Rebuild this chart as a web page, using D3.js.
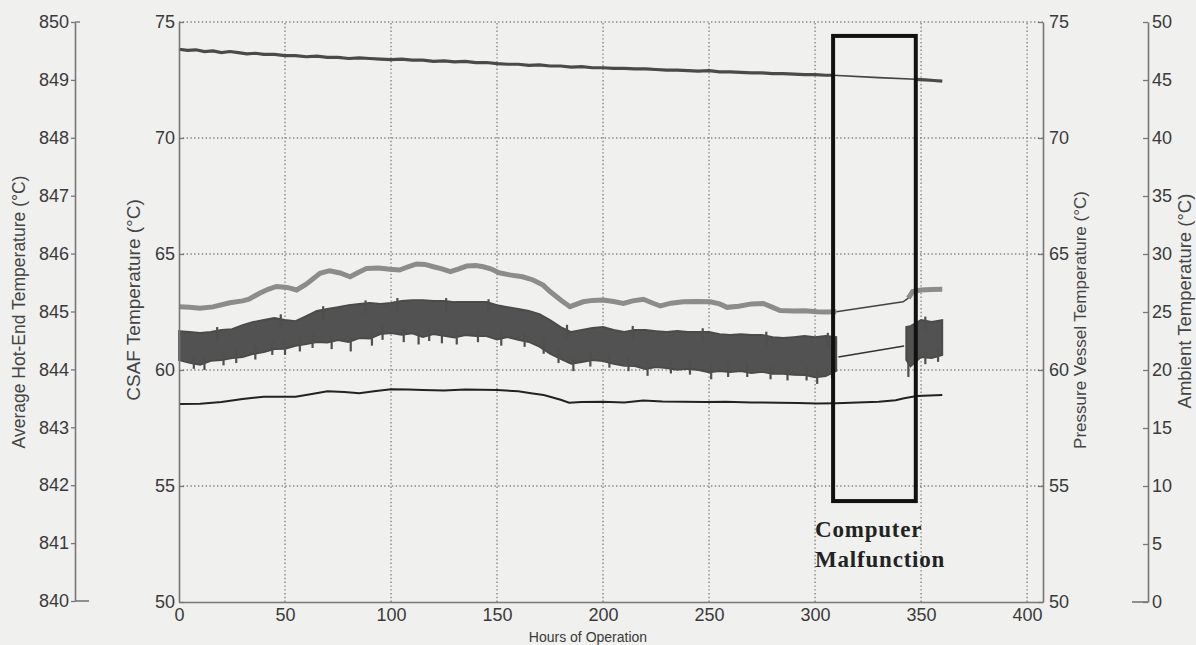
<!DOCTYPE html>
<html>
<head>
<meta charset="utf-8">
<script src="https://cdn.jsdelivr.net/npm/d3@7"></script>
<style>
  body { margin: 0; background: #f0f0ef; }
  text { font-family: "Liberation Sans", Arial, sans-serif; }
</style>
</head>
<body>
<div id="chart"></div>
<script>
// tick values
const xTicks = [0, 50, 100, 150, 200, 250, 300, 350, 400];
const csafTicks = [50, 55, 60, 65, 70, 75];
const hotEndTicks = [840, 841, 842, 843, 844, 845, 846, 847, 848, 849, 850];
const ambientTicks = [0, 5, 10, 15, 20, 25, 30, 35, 40, 45, 50];

// Average hot-end temperature [hour, °C]
const hotEnd = [[0,849.53],[4,849.51],[8,849.52],[12,849.49],[16,849.50],[20,849.47],[24,849.49],[28,849.47],[32,849.45],[36,849.46],[40,849.44],[45,849.44],[50,849.42],[55,849.42],[60,849.40],[65,849.41],[70,849.39],[75,849.39],[80,849.37],[85,849.38],[90,849.37],[95,849.36],[100,849.35],[105,849.36],[110,849.34],[115,849.34],[120,849.32],[125,849.33],[130,849.31],[135,849.32],[140,849.30],[145,849.30],[150,849.28],[155,849.27],[160,849.27],[165,849.25],[170,849.26],[175,849.24],[180,849.24],[185,849.22],[190,849.23],[195,849.21],[200,849.21],[205,849.20],[210,849.20],[215,849.19],[220,849.19],[225,849.18],[230,849.17],[235,849.17],[240,849.16],[245,849.15],[250,849.16],[255,849.14],[260,849.14],[265,849.13],[270,849.12],[275,849.12],[280,849.11],[285,849.11],[290,849.10],[295,849.09],[300,849.09],[305,849.08],[308.5,849.08]];
const hotEndGap = [[308.5,849.08],[330,849.04],[347.5,849.01]];
const hotEndAfter = [[347.5,849.01],[352,849.00],[356,848.99],[360,848.98]];

// CSAF temperature [hour, °C]
const csaf = [[0,62.73],[5,62.70],[10,62.66],[16,62.72],[24,62.90],[30,62.98],[33,63.05],[38,63.31],[42,63.48],[46,63.60],[51,63.56],[55.5,63.45],[60,63.70],[66.5,64.17],[71,64.28],[76,64.18],[80.7,64.02],[85,64.22],[88.5,64.38],[94,64.40],[99.5,64.34],[104,64.31],[108,64.45],[112,64.57],[116,64.55],[120,64.45],[124,64.36],[128,64.24],[132,64.36],[135.7,64.48],[140,64.50],[143.5,64.45],[147,64.36],[151,64.19],[156,64.10],[162,64.02],[167,63.88],[171.7,63.66],[175,63.38],[180,63.02],[184.4,62.73],[190.6,62.94],[195,63.00],[200,63.02],[205,62.95],[209.6,62.87],[214,62.98],[219,63.05],[223,62.90],[227,62.76],[232,62.88],[237.8,62.94],[244,62.95],[250.5,62.94],[255,62.85],[258.5,62.70],[264,62.75],[270,62.85],[275.6,62.87],[280,62.70],[283.5,62.56],[290,62.54],[295,62.55],[301,62.51],[305,62.50],[310,62.51]];
const csafGap = [[310,62.51],[341.5,62.94],[344,63.10]];
const csafAfter = [[344,63.10],[346,63.38],[350,63.45],[355,63.47],[360,63.48]];

// Pressure vessel temperature [hour, °C]
const vessel = [[0,58.53],[10,58.55],[20,58.62],[30,58.75],[40,58.85],[55,58.85],[62,58.95],[70,59.08],[78,59.05],[85,59.00],[92,59.08],[100,59.17],[108,59.16],[115,59.14],[125,59.12],[135,59.16],[150,59.14],[160,59.08],[166,59.00],[172,58.92],[175,58.85],[180,58.72],[184,58.59],[190,58.62],[200,58.63],[210,58.60],[219,58.68],[228,58.64],[238,58.63],[248,58.62],[258,58.63],[270,58.60],[283,58.59],[292,58.58],[301,58.56],[310,58.57],[320,58.60],[330,58.63],[338,58.70],[342,58.78],[348,58.88],[354,58.90],[360,58.92]];

// Ambient temperature band [hour, high, low]
const ambient = [[0,23.36,20.86],[5,23.28,20.62],[10,23.19,20.44],[15,23.28,20.78],[20,23.45,20.86],[25,23.53,21.03],[30,23.88,21.12],[35,24.14,21.38],[40,24.31,21.55],[45,24.48,21.80],[50,24.31,21.82],[55,24.22,22.07],[60,24.66,22.24],[65,25.09,22.40],[70,25.26,22.37],[75,25.43,22.57],[80,25.60,22.41],[85,25.69,22.74],[90,25.78,22.70],[95,25.69,23.09],[100,25.78,23.18],[105,25.95,23.03],[110,26.03,23.16],[115,26.03,22.83],[120,25.95,23.09],[125,25.95,22.94],[130,25.86,22.80],[135,25.86,23.00],[140,25.86,22.93],[145,25.86,22.92],[150,25.60,22.63],[155,25.43,22.83],[160,25.26,22.59],[165,25.09,22.41],[170,24.83,22.01],[175,24.31,21.41],[180,23.71,20.95],[185,23.28,20.54],[190,23.45,20.69],[195,23.62,20.86],[200,23.71,20.76],[205,23.45,20.52],[210,23.28,20.36],[215,23.45,20.34],[220,23.45,20.07],[225,23.36,20.24],[230,23.28,20.17],[235,23.36,20.01],[240,23.28,20.09],[245,23.28,20.00],[250,23.28,19.80],[255,23.10,19.91],[260,23.02,19.83],[265,23.10,19.91],[270,23.02,19.74],[275,23.02,19.83],[280,22.84,19.66],[285,22.76,19.67],[290,22.84,19.58],[295,22.93,19.57],[300,22.84,19.37],[305,22.93,19.48],[310,22.84,19.91]];
const ambientGap = [[311,21.12],[342,22.07]];
const ambientAfter = [[343,23.71,20.86],[345,23.79,20.31],[350,24.31,21.12],[355,24.14,21.03],[360,24.31,21.29]];
// downward and upward spikes [hour, extreme °C]
const ambientLowSpikes = [[7,20.1],[12,20.0],[21,20.4],[27,20.6],[36,20.9],[44,21.3],[50,21.3],[57,21.6],[63,21.9],[72,21.8],[81,21.6],[91,22.1],[96,22.6],[106,22.4],[113,22.2],[118,22.5],[124,22.3],[131,22.2],[141,22.4],[152,22.1],[163,22.0],[172,21.4],[179,20.6],[186,19.9],[194,20.3],[203,20.2],[212,19.9],[221,19.5],[232,19.7],[241,19.6],[251,19.2],[259,19.4],[268,19.4],[279,19.2],[287,19.1],[296,19.1],[301,18.8],[308,19.3],[344,19.4],[352,20.5],[358,20.7]];
const ambientHighSpikes = [[18,23.7],[48,24.8],[68,25.5],[88,26.0],[103,26.2],[126,26.2],[146,26.1],[183,23.9],[214,23.8],[247,23.6],[277,23.3],[306,23.2],[352,24.6]];

// malfunction box: hours, CSAF °C
const boxHours = [308.5, 347.5];
const boxTemps = [54.35, 74.4];

const width = 1196, height = 645;
const x = d3.scaleLinear().domain([0, 407.5]).range([179, 1043]);
const yMain = d3.scaleLinear().domain([50, 75]).range([602, 22]);
const yHot = d3.scaleLinear().domain([840, 850]).range([601, 22]);
const yAmb = d3.scaleLinear().domain([0, 50]).range([602, 22]);

const svg = d3.select("#chart").append("svg")
  .attr("width", width).attr("height", height);

svg.append("rect").attr("width", width).attr("height", height).attr("fill", "#f0f0ef");

// dotted grid
const grid = svg.append("g").attr("stroke", "#858585").attr("stroke-width", 1.4).attr("stroke-dasharray", "1.4,2.4");
grid.selectAll(".gx").data(xTicks.slice(1)).join("line")
  .attr("x1", d => x(d)).attr("x2", d => x(d))
  .attr("y1", yMain(50)).attr("y2", yMain(75));
grid.selectAll(".gy").data(csafTicks.slice(1)).join("line")
  .attr("x1", x(0)).attr("x2", x(407.5))
  .attr("y1", d => yMain(d)).attr("y2", d => yMain(d));

// ambient band
const band = d3.area().x(d => x(d[0])).y0(d => yAmb(d[2])).y1(d => yAmb(d[1]));
[ambient, ambientAfter].forEach(seg => {
  svg.append("path").attr("d", band(seg))
    .attr("fill", "#525252").attr("stroke", "#4a4a4a").attr("stroke-width", 1.8);
});
const spikes = svg.append("g").attr("stroke", "#4f4f4f").attr("stroke-width", 2.2);
spikes.selectAll(".lo").data(ambientLowSpikes).join("line")
  .attr("x1", d => x(d[0])).attr("x2", d => x(d[0]))
  .attr("y1", d => yAmb(d[1] + 1.2)).attr("y2", d => yAmb(d[1]));
spikes.selectAll(".hi").data(ambientHighSpikes).join("line")
  .attr("x1", d => x(d[0])).attr("x2", d => x(d[0]))
  .attr("y1", d => yAmb(d[1] - 1.2)).attr("y2", d => yAmb(d[1]));
svg.append("path").attr("d", d3.line().x(d => x(d[0])).y(d => yAmb(d[1]))(ambientGap))
  .attr("fill", "none").attr("stroke", "#333").attr("stroke-width", 1.6);

// lines
const lineMain = d3.line().x(d => x(d[0])).y(d => yMain(d[1]));
const lineHot = d3.line().x(d => x(d[0])).y(d => yHot(d[1]));

svg.append("path").attr("d", lineMain(csaf)).attr("fill", "none").attr("stroke", "#8c8c8c").attr("stroke-width", 5);
svg.append("path").attr("d", lineMain(csafAfter)).attr("fill", "none").attr("stroke", "#8c8c8c").attr("stroke-width", 5);
svg.append("path").attr("d", lineMain(csafGap)).attr("fill", "none").attr("stroke", "#444").attr("stroke-width", 1.6);

svg.append("path").attr("d", lineMain(vessel)).attr("fill", "none").attr("stroke", "#222").attr("stroke-width", 2);

svg.append("path").attr("d", lineHot(hotEnd)).attr("fill", "none").attr("stroke", "#4a4a4a").attr("stroke-width", 3.2);
svg.append("path").attr("d", lineHot(hotEndAfter)).attr("fill", "none").attr("stroke", "#4a4a4a").attr("stroke-width", 3.2);
svg.append("path").attr("d", lineHot(hotEndGap)).attr("fill", "none").attr("stroke", "#444").attr("stroke-width", 1.6);

// axes
function styleAxis(g) {
  g.selectAll(".domain").attr("stroke", "#777").attr("stroke-width", 1.6);
  g.selectAll(".tick line").attr("stroke", "#777").attr("stroke-width", 1.3);
  g.selectAll("text").attr("fill", "#3a3a3a").style("font-size", "18px")
    .style("font-family", "'Liberation Sans', Arial, sans-serif");
}

svg.append("g").attr("transform", `translate(0,${yMain(50)})`)
  .call(d3.axisBottom(x).tickValues(xTicks).tickSize(0).tickPadding(6))
  .call(styleAxis);
svg.append("g").attr("transform", `translate(${x(0)},0)`)
  .call(d3.axisLeft(yMain).tickValues(csafTicks).tickSizeInner(-5).tickSizeOuter(0).tickPadding(4))
  .call(styleAxis);
svg.append("g").attr("transform", `translate(${x(407.5)},0)`)
  .call(d3.axisRight(yMain).tickValues(csafTicks).tickSizeInner(-5).tickSizeOuter(0).tickPadding(6))
  .call(styleAxis);
svg.append("g").attr("transform", "translate(75,0)")
  .call(d3.axisLeft(yHot).tickValues(hotEndTicks).tickSizeInner(4).tickSizeOuter(0).tickPadding(2))
  .call(styleAxis);
svg.append("g").attr("transform", "translate(1148,0)")
  .call(d3.axisRight(yAmb).tickValues(ambientTicks).tickSizeInner(-5).tickSizeOuter(0).tickPadding(4))
  .call(styleAxis);

// little box edges of the offset axes
svg.append("line").attr("x1", 75).attr("x2", 89).attr("y1", yHot(840)).attr("y2", yHot(840)).attr("stroke", "#777").attr("stroke-width", 1.6);
svg.append("line").attr("x1", 75).attr("x2", 80).attr("y1", yHot(850)).attr("y2", yHot(850)).attr("stroke", "#777").attr("stroke-width", 1.4);
svg.append("line").attr("x1", 1132).attr("x2", 1148).attr("y1", yAmb(0)).attr("y2", yAmb(0)).attr("stroke", "#777").attr("stroke-width", 1.6);

// axis titles
svg.append("text").attr("x", 588).attr("y", 642).attr("text-anchor", "middle")
  .style("font-size", "14px").attr("fill", "#3a3a3a").text("Hours of Operation");

const titles = [
  { text: "Average Hot-End Temperature (°C)", x: 19, y: 312, size: 17.5 },
  { text: "CSAF Temperature  (°C)", x: 133, y: 300, size: 19 },
  { text: "Pressure Vessel Temperature (°C)", x: 1080, y: 320, size: 17 },
  { text: "Ambient Temperature (°C)", x: 1185, y: 301, size: 18.5 }
];
svg.selectAll(".ytitle").data(titles).join("text")
  .attr("transform", d => `translate(${d.x},${d.y}) rotate(-90)`)
  .attr("text-anchor", "middle").attr("dy", "0.35em")
  .style("font-size", d => d.size + "px").attr("fill", "#444")
  .text(d => d.text);

// malfunction annotation
svg.append("rect")
  .attr("x", x(boxHours[0])).attr("y", yMain(boxTemps[1]))
  .attr("width", x(boxHours[1]) - x(boxHours[0]))
  .attr("height", yMain(boxTemps[0]) - yMain(boxTemps[1]))
  .attr("fill", "none").attr("stroke", "#111").attr("stroke-width", 4);

const note = svg.append("text").attr("fill", "#222")
  .style("font-family", "'Liberation Serif', 'Times New Roman', serif")
  .style("font-weight", "bold").style("font-size", "23px").style("letter-spacing", "0.8px");
note.append("tspan").attr("x", 815).attr("y", 537).text("Computer");
note.append("tspan").attr("x", 815).attr("y", 567).text("Malfunction");
</script>
</body>
</html>
